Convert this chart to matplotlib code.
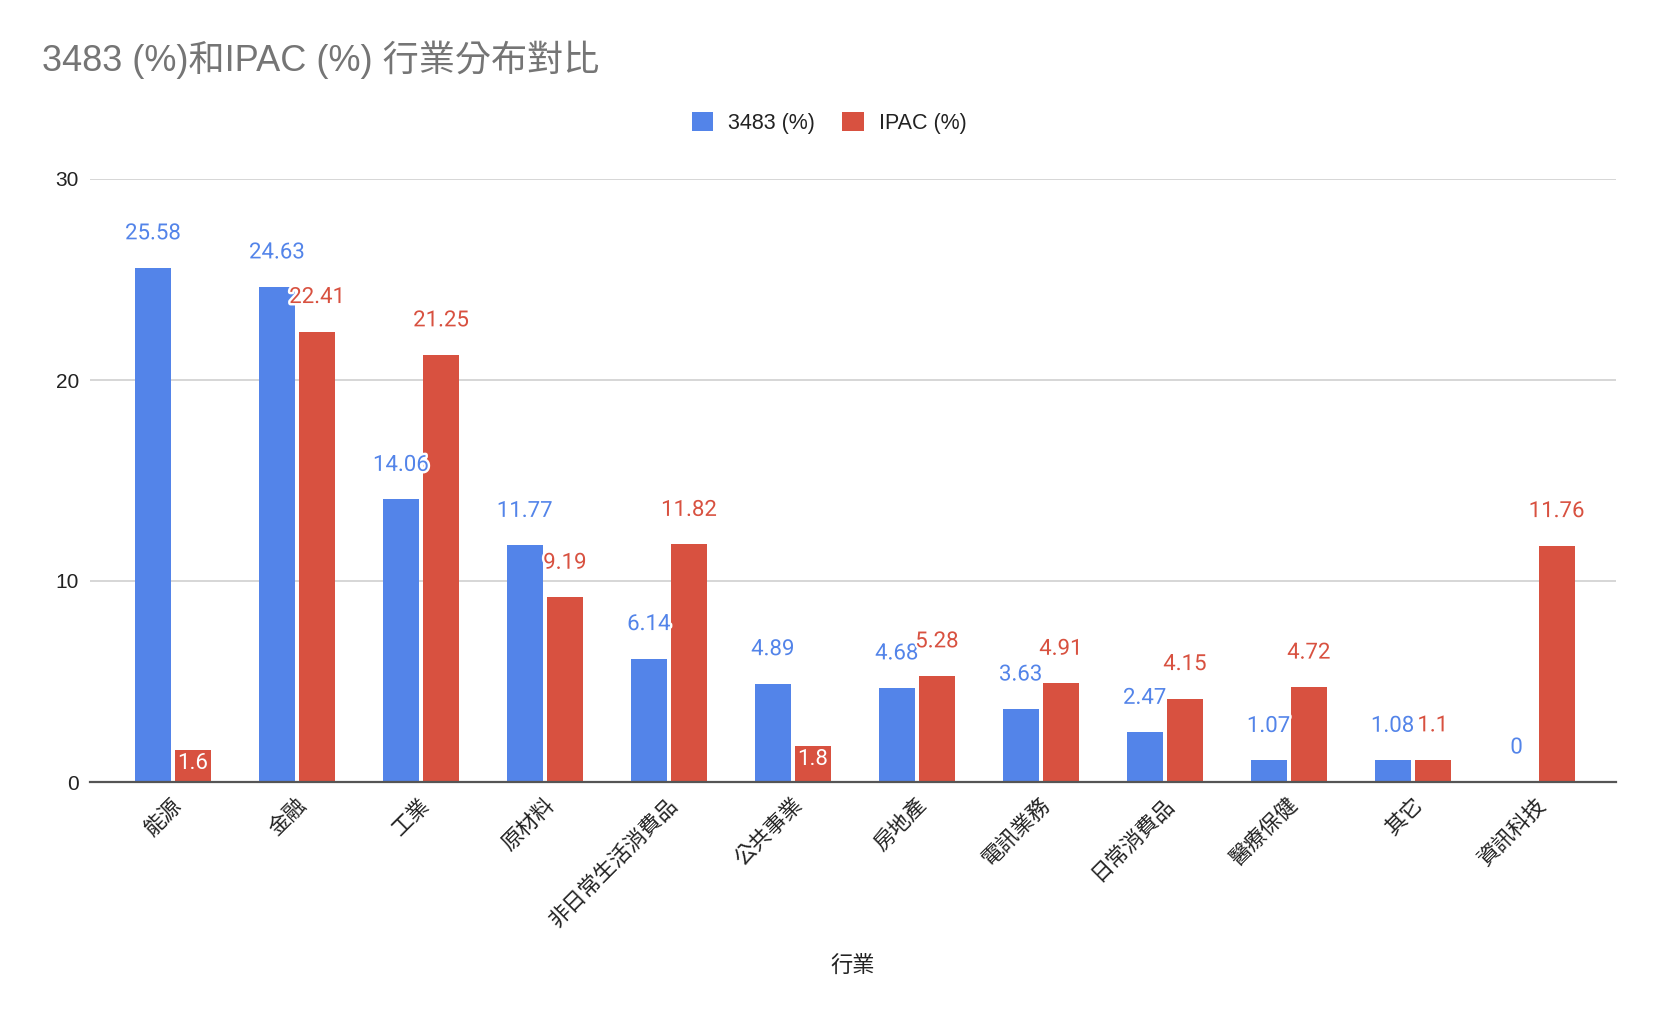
import matplotlib
matplotlib.use("Agg")
import matplotlib.pyplot as plt
import matplotlib.patheffects as pe
import matplotlib.transforms as mtransforms
import numpy as np

categories = ["能源", "金融", "工業", "原材料", "非日常生活消費品", "公共事業",
              "房地產", "電訊業務", "日常消費品", "醫療保健", "其它", "資訊科技"]
series_3483 = [25.58, 24.63, 14.06, 11.77, 6.14, 4.89, 4.68, 3.63, 2.47, 1.07, 1.08, 0]
series_ipac = [1.6, 22.41, 21.25, 9.19, 11.82, 1.8, 5.28, 4.91, 4.15, 4.72, 1.1, 11.76]
series_names = ["3483 (%)", "IPAC (%)"]
ipac_inside = [True, False, False, False, False, True, False, False, False, False, False, False]
yticks = [0, 10, 20, 30]
title = "3483 (%)和IPAC (%) 行業分布對比"
xlabel = "行業"

BLUE = "#5384E9"
RED = "#D85140"
CJK = "Noto Sans CJK TC"
NUM = ["Roboto", CJK]
HEL = ["Liberation Sans", CJK]

plt.rcParams["font.family"] = ["Roboto", CJK, "DejaVu Sans"]

fig = plt.figure(figsize=(16.64, 10.16), dpi=100)
ax = fig.add_axes([90 / 1664, 1 - 782 / 1016, (1616 - 90) / 1664, (782 - 179) / 1016])

x = np.arange(len(categories))
w = 0.29
off = 0.162
b1 = ax.bar(x - off, series_3483, w, color=BLUE, zorder=3)
b2 = ax.bar(x + off, series_ipac, w, color=RED, zorder=3)

ax.set_ylim(0, 30)
ax.set_xlim(-0.67, 11.64)
ax.set_yticks(yticks)
ax.set_yticklabels([str(t) for t in yticks], fontsize=15, color="#222222", family=HEL)
ax.tick_params(axis="y", length=0, pad=8)
ax.grid(axis="y", color="#d0d0d0", linewidth=1.2, zorder=0)
ax.set_axisbelow(True)
for s in ["top", "right", "left"]:
    ax.spines[s].set_visible(False)
ax.spines["bottom"].set_color("#555555")
ax.spines["bottom"].set_linewidth(1.6)
ax.spines["bottom"].set_zorder(4)

ax.set_xticks(x)
ax.set_xticklabels(categories, rotation=45, ha="right", va="center",
                   rotation_mode="anchor", fontsize=15.5, color="#222222", family=CJK)
ax.tick_params(axis="x", length=0, pad=14)
shift = mtransforms.ScaledTranslation(6 / 100, 0, fig.dpi_scale_trans)
for lab in ax.get_xticklabels():
    lab.set_transform(lab.get_transform() + shift)

halo = [pe.withStroke(linewidth=3.5, foreground="white")]

def fmt(v):
    return ("%g" % v)

for xi, v in zip(x, series_3483):
    ax.annotate(fmt(v), (xi - off, v), xytext=(0, 24.5), textcoords="offset points",
                ha="center", va="center", fontsize=16, color=BLUE,
                family=NUM, path_effects=halo, zorder=5)
for xi, v, inside in zip(x, series_ipac, ipac_inside):
    if inside:
        ax.annotate(fmt(v), (xi + off, v), xytext=(0, -10), textcoords="offset points",
                    ha="center", va="center", fontsize=16, color="white",
                    family=NUM, zorder=5)
    else:
        ax.annotate(fmt(v), (xi + off, v), xytext=(0, 24.5), textcoords="offset points",
                    ha="center", va="center", fontsize=16, color=RED,
                    family=NUM, path_effects=halo, zorder=5)

fig.text(42 / 1664, 1 - 60 / 1016, title, fontsize=26, color="#757575",
         family=HEL, ha="left", va="center")

leg = fig.legend([b1, b2], series_names, loc="center", bbox_to_anchor=(829 / 1664, 1 - 123 / 1016),
                 ncol=2, frameon=False, handlelength=1.0, handleheight=1.0,
                 columnspacing=1.25, handletextpad=0.7, prop={"family": HEL, "size": 15.5})
for t in leg.get_texts():
    t.set_color("#222222")

fig.text(853 / 1664, 1 - 966 / 1016, xlabel, fontsize=16, color="#222222",
         family=CJK, ha="center", va="center")

fig.savefig("out.png", dpi=100)
